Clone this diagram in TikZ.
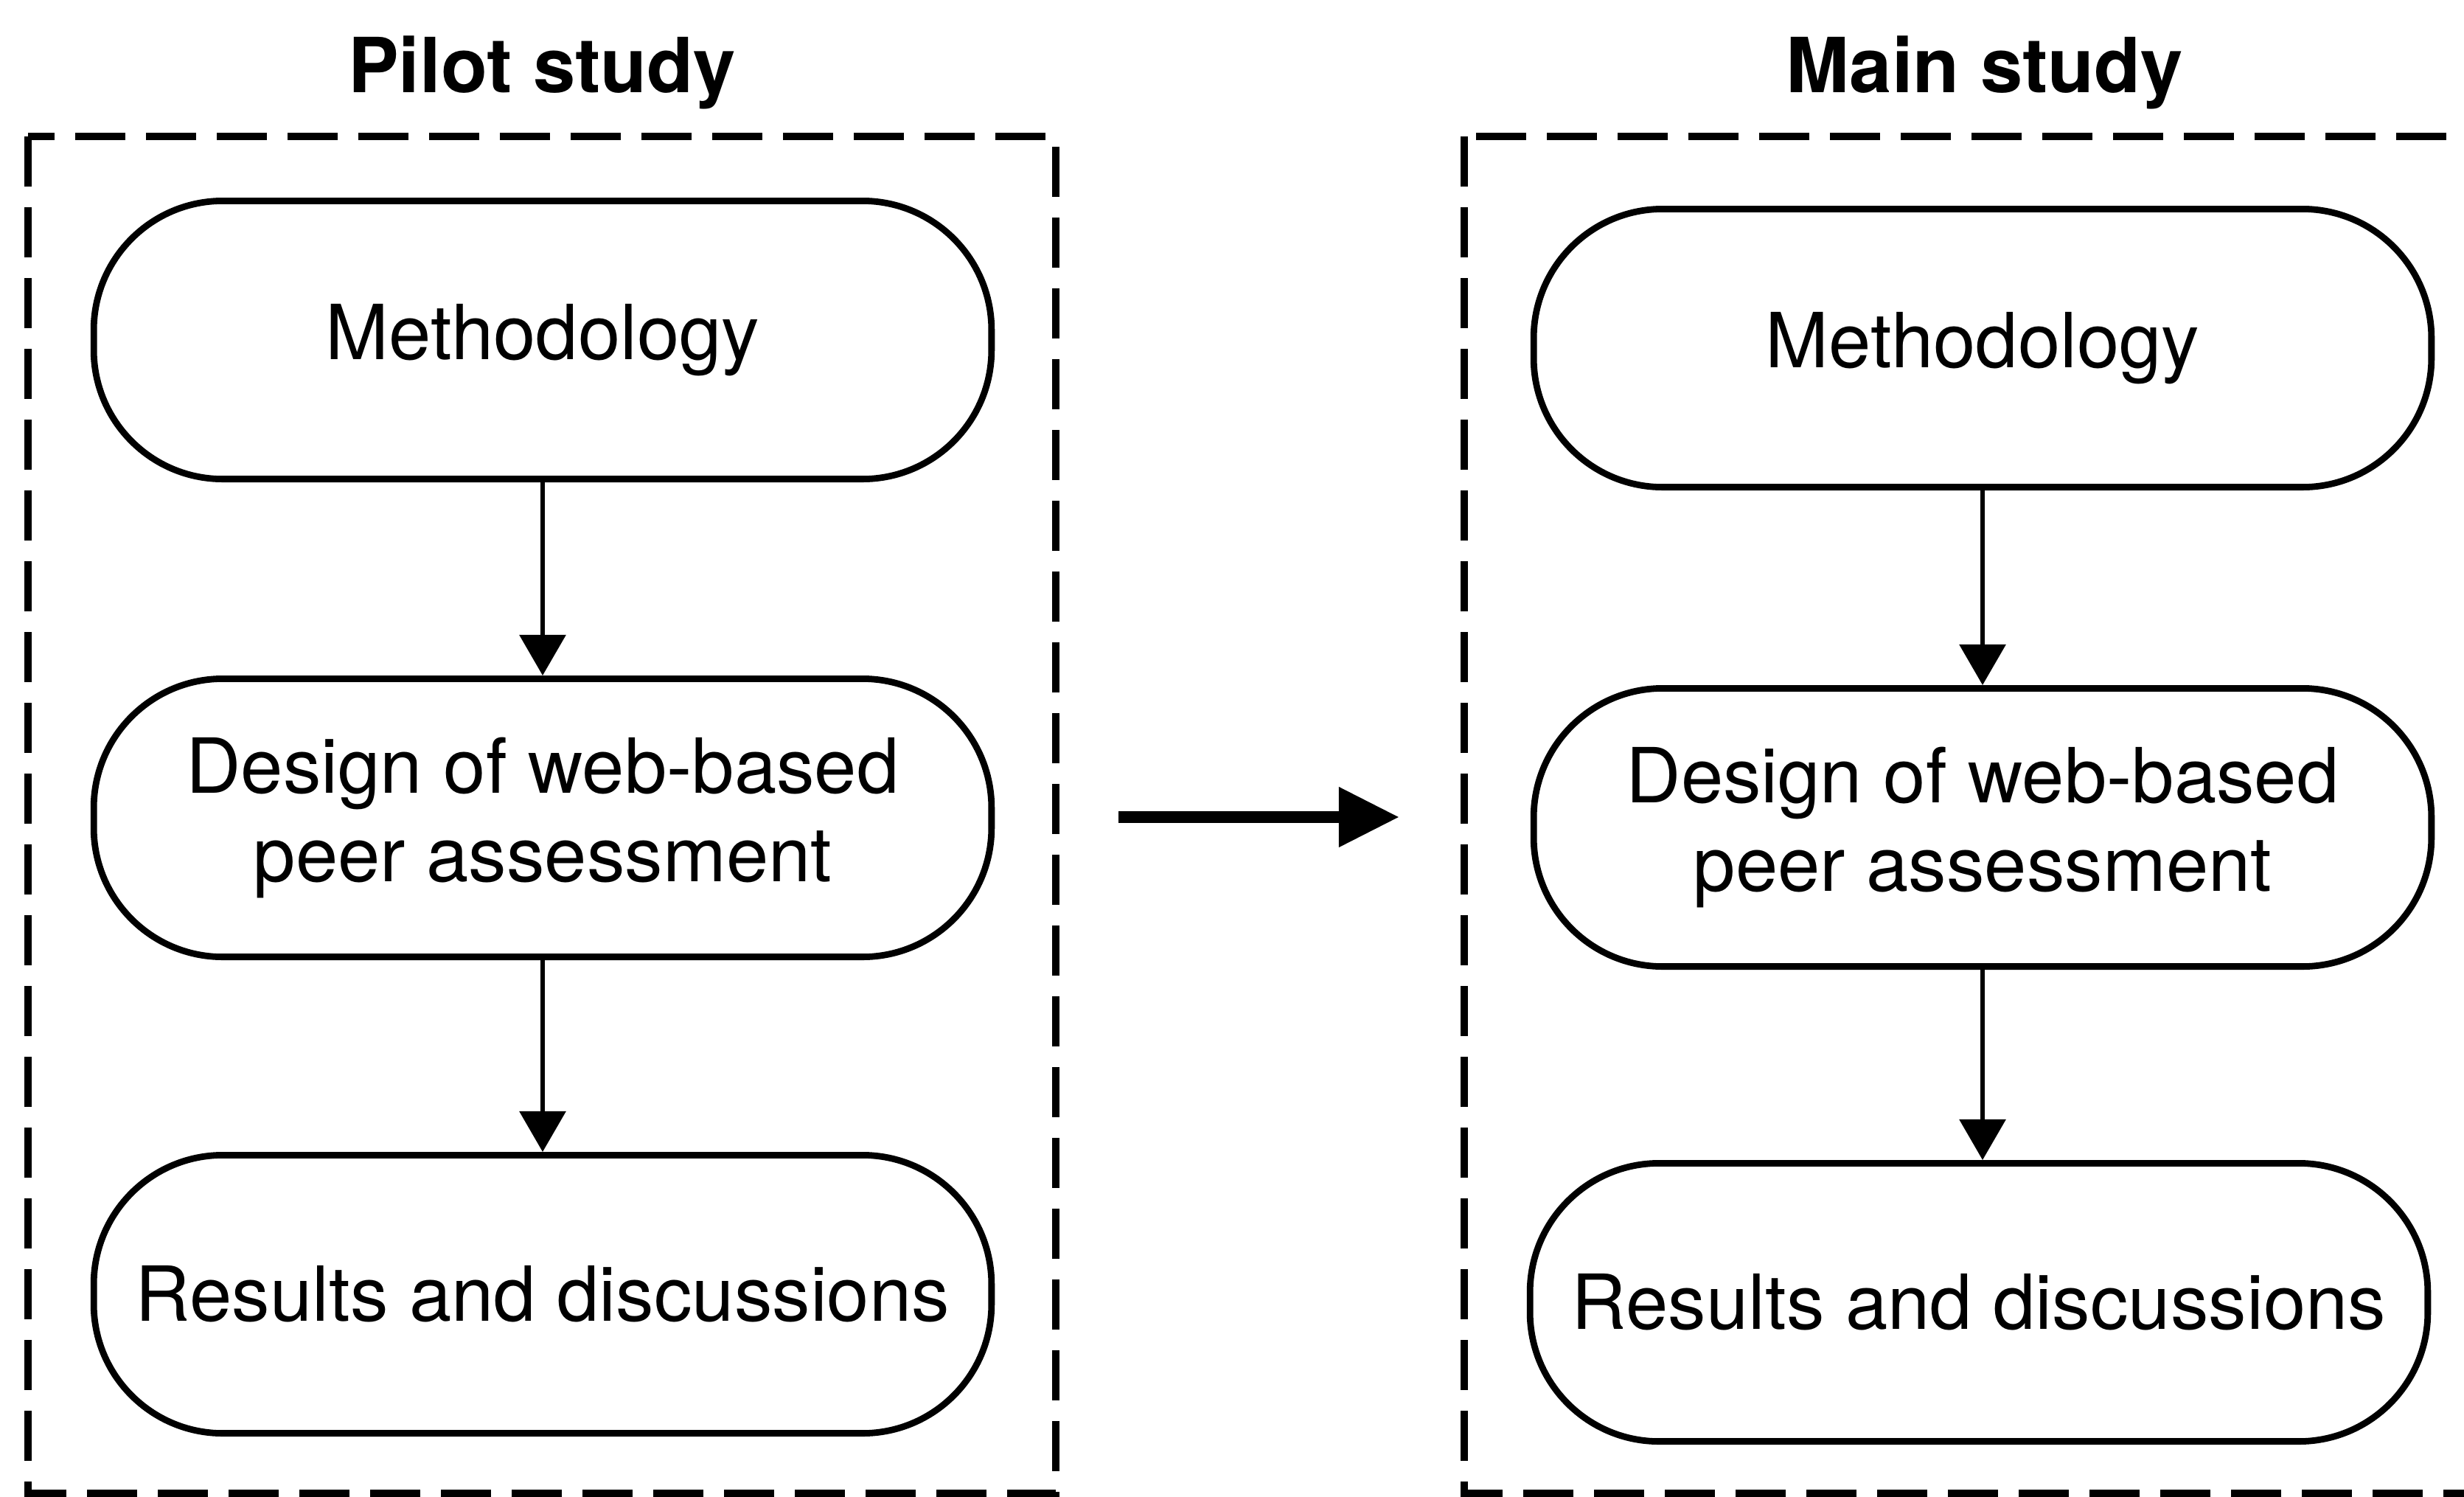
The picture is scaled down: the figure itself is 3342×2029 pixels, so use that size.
\documentclass[tikz,border=0pt]{standalone}
\usepackage{fontspec}
\setmainfont{TeX Gyre Heros}
\usetikzlibrary{arrows.meta}
\begin{document}
\begin{tikzpicture}[x=0.01cm,y=-0.01cm,
  stage/.style={draw, line width=2.5pt, rounded corners=1.75cm,
    minimum width=12.17cm, minimum height=3.77cm, align=center, inner sep=0pt,
    font=\fontsize{29.3pt}{34pt}\selectfont},
  studybox/.style={draw, line width=2.6pt, dash pattern=on 19.3pt off 8pt},
  heading/.style={anchor=base, inner sep=0pt,
    font=\fontsize{29.3pt}{33.3pt}\selectfont\bfseries},
  flow/.style={line width=1.7pt, -{Triangle[width=0.62cm,length=0.55cm]}},
  link/.style={line width=4.8pt, -{Triangle[width=0.77cm,length=0.82cm]}}]
\useasboundingbox (0,0) rectangle (3342,2029);
\fill[white] (0,0) rectangle (3342,2029);
\clip (0,0) rectangle (3342,2029);

% study frames (the right one runs past the page edge)
\draw[studybox] (38,185) rectangle (1432,2025);
\draw[studybox] (1986,185) rectangle (3500,2025);

% headings
\node[heading] (pilotT) at (735,125) {Pilot study};
\node[heading] (mainT) at (2692,125) {Main study};

% pilot study stages
\node[stage] (pM) at (736,461) {Methodology};
\node[stage] (pD) at (736,1109) {Design of web-based\\peer assessment};
\node[stage] (pR) at (736,1755) {Results and discussions};

% main study stages
\node[stage] (mM) at (2689,472) {Methodology};
\node[stage] (mD) at (2689,1122) {Design of web-based\\peer assessment};
\node[stage] (mR) at (2684,1766) {Results and discussions};

\draw[flow] (pM) -- (pD);
\draw[flow] (pD) -- (pR);
\draw[flow] (mM) -- (mD);
\draw[flow] (mD.south) -- (mD.south |- mR.north);

% pilot leads into main study
\coordinate (lkA) at (1517,1108);
\coordinate (lkB) at (1898,1108);
\draw[link] (lkA) -- (lkB);
\end{tikzpicture}
\end{document}
